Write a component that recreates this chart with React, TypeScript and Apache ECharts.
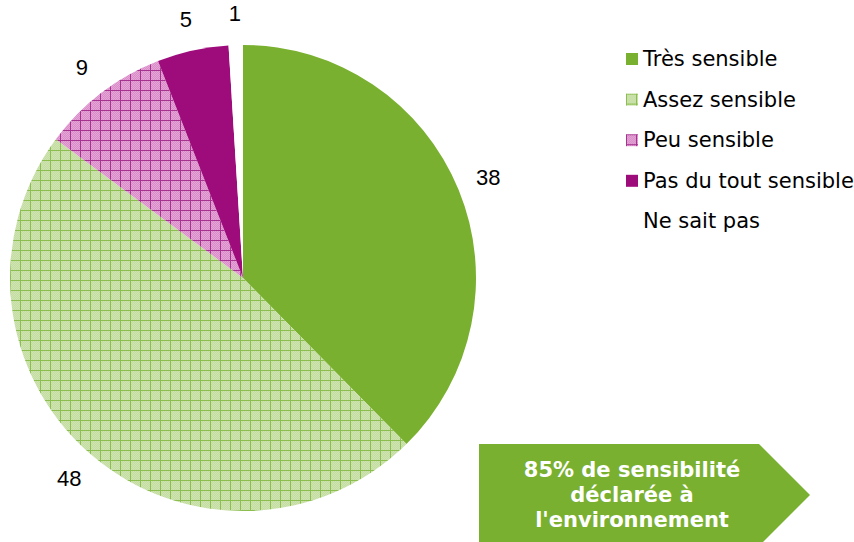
import React, { useEffect, useRef } from "react";
import * as echarts from "echarts";

const categories = ["Très sensible", "Assez sensible", "Peu sensible", "Pas du tout sensible", "Ne sait pas"];
const values = [38, 48, 9, 5, 1];
const calloutLines = ["85% de sensibilité", "déclarée à", "l'environnement"];

function makePattern(bg: string, line: string, dot: string) {
  const c = document.createElement("canvas");
  const s = 10;
  c.width = s;
  c.height = s;
  const ctx = c.getContext("2d")!;
  ctx.fillStyle = bg;
  ctx.fillRect(0, 0, s, s);
  ctx.fillStyle = dot;
  for (let y = 0; y < s; y++) {
    for (let x = 0; x < s; x++) {
      if ((x + y) % 2 === 0) ctx.fillRect(x, y, 1, 1);
    }
  }
  ctx.fillStyle = line;
  ctx.fillRect(0, 0, s, 1);
  ctx.fillRect(0, 0, 1, s);
  return { image: c.toDataURL(), repeat: "repeat" as const };
}

export default function App() {
  const ref = useRef<HTMLDivElement>(null);
  useEffect(() => {
    if (!ref.current) return;
    const chart = echarts.init(ref.current, null, { renderer: "svg" });
    const greenPat = makePattern("#c3dca0", "#8bbd4f", "#cfe4b2");
    const pinkPat = makePattern("#d98cc8", "#a5338f", "#e3a6d6");
    const colors: any[] = ["#7ab030", greenPat, pinkPat, "#9e0c7c", "#ffffff"];
    const data = categories.map((name, i) => ({
      name,
      value: values[i],
      itemStyle: { color: colors[i] },
    }));
    const cx = 243;
    const cy = 278;
    const R = 233;
    const lineH = 25;
    const callX = 632;
    const callY = 470;
    chart.setOption({
      animation: false,
      legend: {
        orient: "vertical",
        left: 626,
        top: 48,
        padding: 0,
        icon: "rect",
        itemWidth: 12,
        itemHeight: 12,
        itemGap: 18.6,
        data: categories,
        selectedMode: false,
        textStyle: {
          fontFamily: "DejaVu Sans",
          fontSize: 21,
          color: "#000",
          lineHeight: 22,
        },
      },
      series: [
        {
          type: "pie",
          center: [cx, cy],
          radius: [0, R],
          startAngle: 90,
          clockwise: true,
          silent: true,
          data,
          label: { show: false },
          labelLine: { show: false },
        },
        {
          type: "pie",
          center: [cx, cy],
          radius: [R + 20, R + 38],
          startAngle: 90,
          clockwise: true,
          silent: true,
          data: categories.map((name, i) => ({
            name,
            value: values[i],
            itemStyle: { color: "rgba(0,0,0,0)" },
          })),
          label: {
            show: true,
            position: "inside",
            formatter: "{c}",
            fontFamily: "Liberation Sans",
            fontSize: 22,
            color: "#000",
          },
          labelLine: { show: false },
        },
      ],
      graphic: [
        {
          type: "polygon",
          silent: true,
          shape: {
            points: [
              [479, 444],
              [759, 444],
              [810, 495],
              [759, 546],
              [479, 546],
            ],
          },
          style: { fill: "#7ab030" },
        },
        ...calloutLines.map((t, i) => ({
          type: "text",
          silent: true,
          x: callX,
          y: callY + i * lineH,
          style: {
            text: t,
            fill: "#ffffff",
            font: "bold 21px 'DejaVu Sans'",
            align: "center",
            verticalAlign: "middle",
          },
        })),
      ],
    });
    return () => chart.dispose();
  }, []);
  return (
    <div
      ref={ref}
      style={{ position: "absolute", left: 0, top: 0, width: 854, height: 542, background: "#fff" }}
    />
  );
}
